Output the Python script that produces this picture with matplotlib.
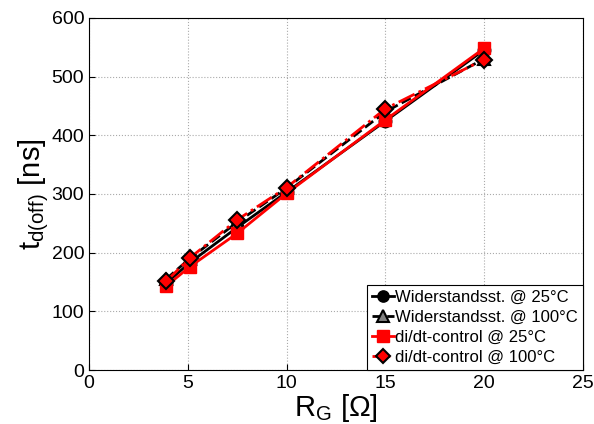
import matplotlib.pyplot as plt
import numpy as np

plt.rcParams['font.family'] = ['Liberation Sans', 'DejaVu Sans']
plt.rcParams['mathtext.fontset'] = 'custom'
plt.rcParams['mathtext.rm'] = 'Liberation Sans'
plt.rcParams['mathtext.it'] = 'Liberation Sans'

# Gate resistance (Ohm)
rg = [3.9, 5.1, 7.5, 10, 15, 20]

# Turn-off delay times (ns)
wid_25 = [148, 183, 243, 303, 424, 545]
wid_100 = [155, 190, 252, 310, 440, 530]
didt_25 = [143, 176, 233, 301, 426, 548]
didt_100 = [151, 191, 256, 311, 445, 529]

fig = plt.figure(figsize=(5.94, 4.24), dpi=100)
ax = fig.add_axes([0.150, 0.127, 0.831, 0.831])

ax.plot(rg, wid_25, '-', color='black', lw=2, marker='o', ms=9,
        mfc='black', mec='black', label='Widerstandsst. @ 25°C')
ax.plot(rg, wid_100, '--', color='black', lw=2, marker='^', ms=9,
        mfc='gray', mec='black', mew=1.5, label='Widerstandsst. @ 100°C')
ax.plot(rg, didt_25, '-', color='red', lw=2, marker='s', ms=9,
        mfc='red', mec='red', label='di/dt-control @ 25°C')
ax.plot(rg, didt_100, '-.', color='red', lw=2, marker='D', ms=8,
        mfc='red', mec='black', mew=1.5, label='di/dt-control @ 100°C')

ax.set_xlim(0, 25)
ax.set_ylim(0, 600)
ax.set_xticks([0, 5, 10, 15, 20, 25])
ax.set_yticks([0, 100, 200, 300, 400, 500, 600])
ax.tick_params(direction='in', labelsize=14, length=4)
ax.grid(True, linestyle=':', color='#aaaaaa', lw=0.8)

ax.set_xlabel(r'$\mathregular{R_G}$ [Ω]', fontsize=21, labelpad=0)
ax.set_ylabel(r'$\mathregular{t_{d(off)}}$ [ns]', fontsize=21, labelpad=0)

leg = ax.legend(loc='lower right', fontsize=12, borderaxespad=0,
                fancybox=False, edgecolor='black', framealpha=1,
                handlelength=1.3, handletextpad=0.05, labelspacing=0.3,
                borderpad=0.3, markerscale=0.9)
leg.get_frame().set_linewidth(0.8)

fig.savefig('out.png', dpi=100)
